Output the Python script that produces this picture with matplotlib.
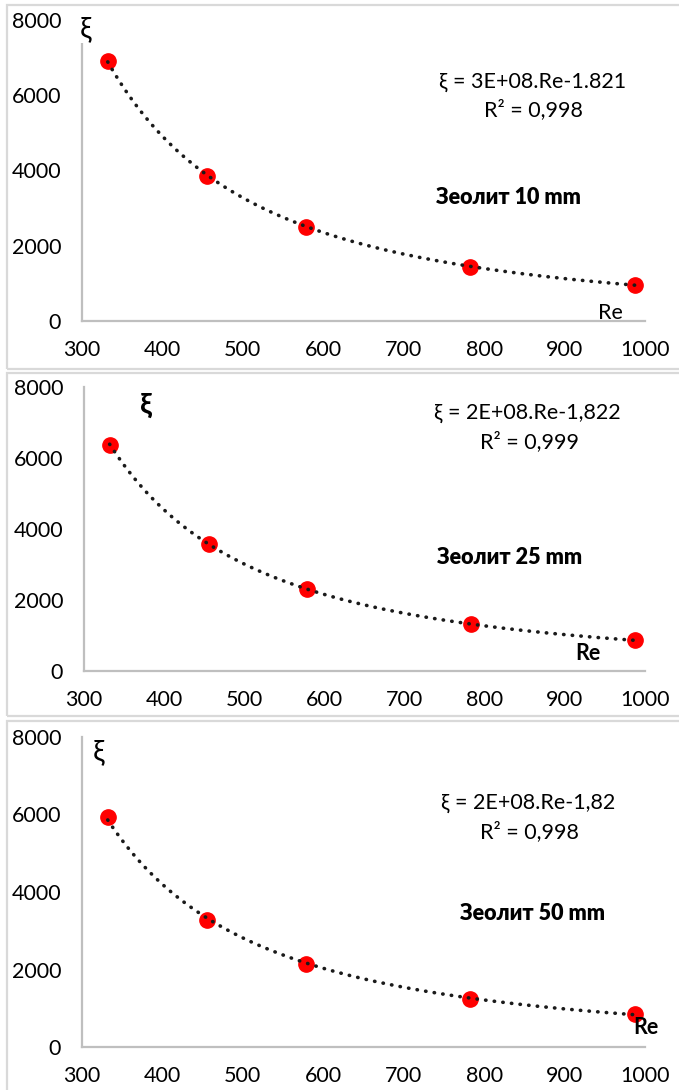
import numpy as np
import matplotlib
matplotlib.use("Agg")
from matplotlib import pyplot as plt
from matplotlib.patches import Rectangle

plt.rcParams["font.family"] = ["Lato", "DejaVu Sans"]

# Reynolds numbers (same runs for every zeolite size)
RE = [332, 456, 578, 783, 988]

# resistance coefficient for each zeolite size
XI_10 = [6915, 3864, 2508, 1444, 957]
XI_25 = [6377, 3569, 2321, 1315, 864]
XI_50 = [5935, 3290, 2152, 1249, 844]

EQUATIONS = [
    "ξ = 3E+08.Re-1.821",
    "ξ = 2E+08.Re-1,822",
    "ξ = 2E+08.Re-1,82",
]
R2_LABELS = ["R² = 0,998", "R² = 0,999", "R² = 0,998"]
TITLES = ["Зеолит 10 mm", "Зеолит 25 mm", "Зеолит 50 mm"]

X_TICKS = [300, 400, 500, 600, 700, 800, 900, 1000]
Y_TICKS = [0, 2000, 4000, 6000, 8000]

W, H = 679, 1090

# pixel layout of each panel: axes box, outer frame, text spots
PANELS = [
    {
        "axes": (82, 645, 20, 321),
        "frame": (7, 5, 369),
        "eq": (533, 82), "r2": (533, 110), "title": (508, 197),
        "re": (610, 313, "normal"), "xi": (86, 29, "normal"),
    },
    {
        "axes": (84, 645, 387, 671),
        "frame": (7, 373, 716),
        "eq": (527, 413), "r2": (529, 442), "title": (510, 558),
        "re": (588, 654, "bold"), "xi": (146, 406, "bold"),
    },
    {
        "axes": (82, 645, 737, 1047),
        "frame": (7, 721, 1100),
        "eq": (528, 803), "r2": (529, 832), "title": (532, 914),
        "re": (646, 1027, "bold"), "xi": (99, 752, "normal"),
    },
]


def fx(px):
    return px / W


def fy(py):
    return 1 - py / H


def power_fit(x, y):
    """least squares power trend y = a * x^b"""
    b, ln_a = np.polyfit(np.log(x), np.log(y), 1)
    return np.exp(ln_a), b


def draw_panel(fig, layout, xi, eq, r2, title):
    fx0, fy0, fy1 = layout["frame"]
    fig.patches.append(
        Rectangle((fx(fx0), fy(fy1)), 1.2, fy(fy0) - fy(fy1),
                  transform=fig.transFigure, fill=False,
                  edgecolor="#d9d9d9", linewidth=1.6, zorder=0)
    )

    left, right, top, bottom = layout["axes"]
    ax = fig.add_axes([fx(left), fy(bottom), fx(right) - fx(left), fy(top) - fy(bottom)])
    ax.set_facecolor("none")

    ax.plot(RE, xi, "o", color="#ff0000", markersize=11, zorder=3, clip_on=False)

    a, b = power_fit(np.array(RE, float), np.array(xi, float))
    xs = np.linspace(RE[0], RE[-1], 200)
    ax.plot(xs, a * xs ** b, color="#1a1a1a", linewidth=2.6,
            linestyle=(0, (0.1, 2.3)), dash_capstyle="round", zorder=4)

    ax.set_xlim(300, 1000)
    ax.set_ylim(0, 8000)
    ax.set_xticks(X_TICKS)
    ax.set_yticks(Y_TICKS)
    ax.tick_params(length=0, labelsize=15.5, colors="#000000")
    ax.tick_params(axis="y", pad=15)
    ax.tick_params(axis="x", pad=14)
    for side in ("top", "right"):
        ax.spines[side].set_visible(False)
    for side in ("left", "bottom"):
        ax.spines[side].set_color("#bfbfbf")
        ax.spines[side].set_linewidth(1.6)

    x, y = layout["eq"]
    fig.text(fx(x), fy(y), eq, ha="center", va="center", fontsize=15.5)
    x, y = layout["r2"]
    fig.text(fx(x), fy(y), r2, ha="center", va="center", fontsize=15.5)
    x, y = layout["title"]
    fig.text(fx(x), fy(y), title, ha="center", va="center", fontsize=15.5,
             fontweight="heavy")
    x, y, w = layout["re"]
    fig.text(fx(x), fy(y), "Re", ha="center", va="center", fontsize=15.5,
             fontweight=w)
    x, y, w = layout["xi"]
    fig.text(fx(x), fy(y), "ξ", ha="center", va="center", fontsize=21,
             fontweight=w, zorder=5,
             bbox=dict(facecolor="white", edgecolor="none", pad=1))
    return ax


def main():
    fig = plt.figure(figsize=(W / 100, H / 100), dpi=100)
    fig.patch.set_facecolor("white")
    series = [XI_10, XI_25, XI_50]
    for layout, xi, eq, r2, title in zip(PANELS, series, EQUATIONS, R2_LABELS, TITLES):
        draw_panel(fig, layout, xi, eq, r2, title)
    fig.savefig("out.png", dpi=100)


if __name__ == "__main__":
    main()
